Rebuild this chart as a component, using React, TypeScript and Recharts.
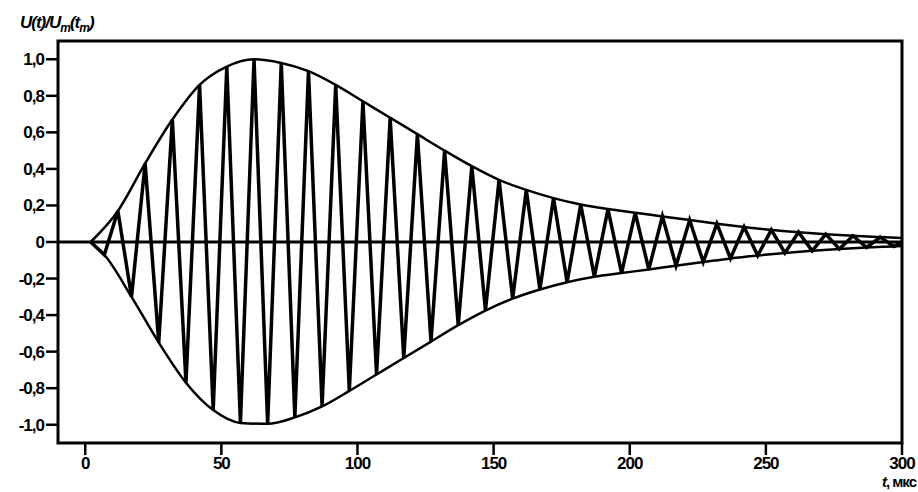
import React from 'react';
import { LineChart, Line, XAxis, YAxis, ReferenceLine, ReferenceArea } from 'recharts';

// oscillation extremes: t in µs, U(t)/Um(tm)
const oscT = [
  2, 7, 12, 17, 22, 27, 32, 37, 42, 47, 52, 57, 62, 67, 72, 77, 82, 87, 92, 97,
  102, 107, 112, 117, 122, 127, 132, 137, 142, 147, 152, 157, 162, 167, 172, 177,
  182, 187, 192, 197, 202, 207, 212, 217, 222, 227, 232, 237, 242, 247, 252, 257,
  262, 267, 272, 277, 282, 287, 292, 297, 300,
];
const oscU = [
  0, -0.07, 0.17, -0.3, 0.43, -0.55, 0.67, -0.77, 0.86, -0.92, 0.96, -0.99, 1.0, -0.995, 0.98, -0.96, 0.935, -0.9, 0.86, -0.815,
  0.77, -0.725, 0.68, -0.635, 0.59, -0.545, 0.5, -0.455, 0.415, -0.375, 0.34, -0.31, 0.285, -0.26, 0.24, -0.22,
  0.205, -0.19, 0.18, -0.17, 0.16, -0.15, 0.14, -0.13, 0.12, -0.11, 0.1, -0.09, 0.082, -0.074, 0.066, -0.06,
  0.054, -0.048, 0.043, -0.038, 0.034, -0.03, 0.027, -0.024, 0,
];

// envelopes
const upperT = [2, 12, 22, 32, 42, 52, 62, 72, 82, 92, 102, 112, 122, 132, 142, 152, 162, 172, 182, 192, 202, 212, 222, 232, 242, 252, 262, 272, 282, 292, 300];
const upperU = [0, 0.17, 0.43, 0.67, 0.86, 0.96, 1.0, 0.98, 0.935, 0.86, 0.77, 0.68, 0.59, 0.5, 0.415, 0.34, 0.285, 0.24, 0.205, 0.18, 0.16, 0.14, 0.12, 0.1, 0.082, 0.066, 0.054, 0.043, 0.034, 0.027, 0.022];
const lowerT = [2, 7, 17, 27, 37, 47, 57, 67, 77, 87, 97, 107, 117, 127, 137, 147, 157, 167, 177, 187, 197, 207, 217, 227, 237, 247, 257, 267, 277, 287, 297, 300];
const lowerU = [0, -0.07, -0.3, -0.55, -0.77, -0.92, -0.99, -0.995, -0.96, -0.9, -0.815, -0.725, -0.635, -0.545, -0.455, -0.375, -0.31, -0.26, -0.22, -0.19, -0.17, -0.15, -0.13, -0.11, -0.09, -0.074, -0.06, -0.048, -0.038, -0.03, -0.024, -0.022];

const xTicks = [0, 50, 100, 150, 200, 250, 300];
const yTicks = [-1, -0.8, -0.6, -0.4, -0.2, 0, 0.2, 0.4, 0.6, 0.8, 1];

const toPoints = (ts: number[], us: number[]) => ts.map((t, i) => ({ t, u: us[i] }));
const oscData = toPoints(oscT, oscU);
const upperData = toPoints(upperT, upperU);
const lowerData = toPoints(lowerT, lowerU);

const fmtY = (v: number) => (v === 0 ? '0' : v.toFixed(1).replace('.', ','));

const font = '"Liberation Sans", Arial, sans-serif';
const tickStyle = { fill: '#000', fontSize: 17, fontWeight: 700, fontFamily: font, letterSpacing: -1 };

export default function App() {
  return (
    <div style={{ position: 'absolute', left: 0, top: 0, width: 918, height: 492, background: '#fff', fontFamily: font }}>
      <LineChart width={918} height={492} margin={{ top: 41, right: 16, bottom: 0, left: 0 }}>
        <XAxis
          dataKey="t"
          type="number"
          domain={[-10, 300]}
          ticks={xTicks}
          allowDataOverflow
          height={49}
          tick={tickStyle}
          tickSize={12}
          tickMargin={2}
          axisLine={false}
          tickLine={{ stroke: '#000', strokeWidth: 2.5 }}
        />
        <YAxis
          type="number"
          domain={[-1.1, 1.1]}
          ticks={yTicks}
          allowDataOverflow
          width={58}
          tick={tickStyle}
          tickFormatter={fmtY}
          tickSize={12}
          tickMargin={2}
          axisLine={false}
          tickLine={{ stroke: '#000', strokeWidth: 2.5 }}
        />
        <ReferenceArea x1={-10} x2={300} y1={-1.1} y2={1.1} fill="none" fillOpacity={0} stroke="#000" strokeWidth={3} ifOverflow="visible" />
        <ReferenceLine y={0} stroke="#000" strokeWidth={3} />
        <Line data={upperData} dataKey="u" type="monotone" stroke="#000" strokeWidth={2.5} dot={false} isAnimationActive={false} />
        <Line data={lowerData} dataKey="u" type="monotone" stroke="#000" strokeWidth={2.5} dot={false} isAnimationActive={false} />
        <Line data={oscData} dataKey="u" type="linear" stroke="#000" strokeWidth={3.5} strokeLinejoin="miter" dot={false} isAnimationActive={false} />
      </LineChart>
      <div style={{ position: 'absolute', left: 20, top: 13, fontSize: 17, fontWeight: 700, fontStyle: 'italic', letterSpacing: -1, color: '#000' }}>
        U(t)/U<sub style={{ fontSize: 12 }}>m</sub>(t<sub style={{ fontSize: 12 }}>m</sub>)
      </div>
      <div style={{ position: 'absolute', right: 2, top: 473, fontSize: 15, fontWeight: 700, letterSpacing: -1, color: '#000' }}>
        <i>t</i>, мкс
      </div>
    </div>
  );
}
